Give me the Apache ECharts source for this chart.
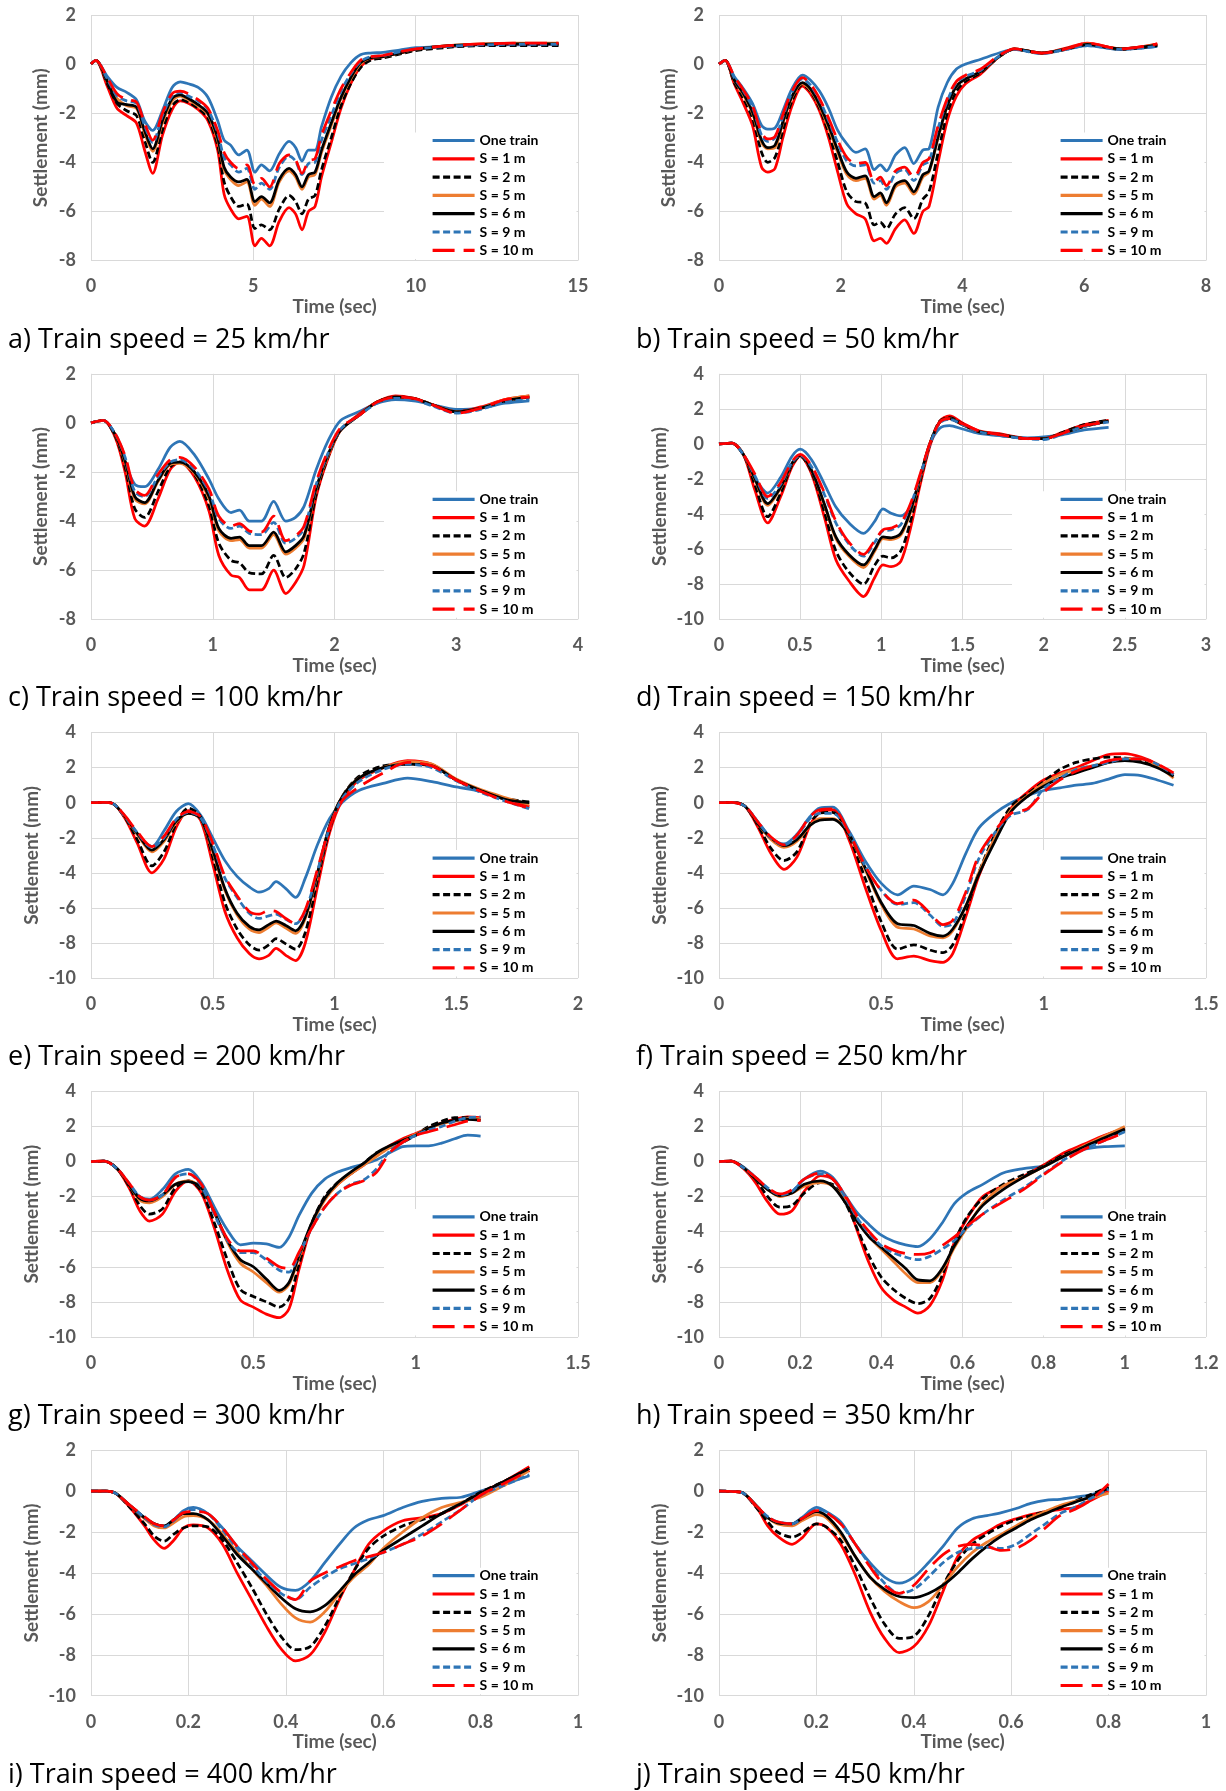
<!DOCTYPE html>
<html><head><meta charset="utf-8">
<script src="https://cdn.jsdelivr.net/npm/echarts@6/dist/echarts.min.js"></script>
<style>html,body{margin:0;padding:0;background:#fff}#main{width:1226px;height:1791px}</style>
</head><body><div id="main"></div>
<script>
const seriesNames = ['One train', 'S = 1 m', 'S = 2 m', 'S = 5 m', 'S = 6 m', 'S = 9 m', 'S = 10 m'];
const panelCaptions = ['a) Train speed = 25 km/hr', 'b) Train speed = 50 km/hr', 'c) Train speed = 100 km/hr', 'd) Train speed = 150 km/hr', 'e) Train speed = 200 km/hr', 'f) Train speed = 250 km/hr', 'g) Train speed = 300 km/hr', 'h) Train speed = 350 km/hr', 'i) Train speed = 400 km/hr', 'j) Train speed = 450 km/hr'];
const xAxisMax = [15, 8, 4, 3, 2, 1.5, 1.5, 1.2, 1, 1];
const xAxisInterval = [5, 2, 1, 0.5, 0.5, 0.5, 0.5, 0.2, 0.2, 0.2];
const yAxisMin = [-8, -8, -8, -10, -10, -10, -10, -10, -10, -10];
const yAxisMax = [2, 2, 2, 4, 4, 4, 4, 4, 2, 2];
const yAxisInterval = [2, 2, 2, 2, 2, 2, 2, 2, 2, 2];

// a) 25 km/hr
const timeA = [0, 0.15, 0.5, 0.8, 1.1, 1.4, 1.65, 1.9, 2.2, 2.5, 2.75, 3.0, 3.3, 3.6, 3.9, 4.1, 4.3, 4.55, 4.8, 5.05, 5.25, 5.5, 5.8, 6.1, 6.3, 6.5, 6.7, 6.9, 7.1, 7.4, 7.7, 8.0, 8.3, 8.6, 9.0, 9.5, 10, 11, 12, 13, 14.4];
const oneTrainA = [0, 0.15, -0.5, -0.95, -1.15, -1.45, -2.3, -2.7, -1.9, -0.95, -0.72, -0.8, -0.95, -1.35, -2.3, -3.1, -3.3, -3.7, -3.5, -4.4, -4.1, -4.35, -3.65, -3.15, -3.4, -3.95, -3.5, -3.5, -2.55, -1.35, -0.5, 0.05, 0.38, 0.45, 0.48, 0.57, 0.67, 0.72, 0.78, 0.78, 0.8];
const s1A = [0, 0.15, -0.9, -1.8, -2.1, -2.4, -3.5, -4.45, -2.9, -1.85, -1.5, -1.6, -1.85, -2.3, -3.5, -5.3, -5.9, -6.3, -6.2, -7.4, -7.1, -7.4, -6.4, -5.85, -6.1, -6.75, -6.0, -5.8, -4.6, -3.2, -1.8, -0.8, -0.1, 0.2, 0.3, 0.45, 0.6, 0.72, 0.8, 0.82, 0.82];
const s2A = [0, 0.15, -0.8, -1.6, -1.9, -2.1, -3.1, -4.0, -2.7, -1.7, -1.45, -1.55, -1.8, -2.2, -3.3, -4.8, -5.4, -5.8, -5.7, -6.7, -6.55, -6.75, -5.9, -5.35, -5.6, -6.1, -5.5, -5.35, -4.3, -3.0, -1.7, -0.8, -0.15, 0.15, 0.25, 0.4, 0.55, 0.68, 0.75, 0.75, 0.75];
const s5A = [0, 0.15, -0.7, -1.4, -1.7, -1.8, -2.8, -3.55, -2.4, -1.5, -1.3, -1.45, -1.7, -2.05, -3.1, -4.3, -4.7, -4.95, -4.8, -5.75, -5.5, -5.8, -4.8, -4.35, -4.6, -5.1, -4.6, -4.5, -3.6, -2.5, -1.4, -0.6, 0.0, 0.25, 0.3, 0.45, 0.6, 0.75, 0.82, 0.85, 0.85];
const s6A = [0, 0.15, -0.7, -1.55, -1.65, -1.75, -2.7, -3.45, -2.3, -1.4, -1.25, -1.4, -1.65, -2.0, -3.0, -4.2, -4.6, -4.8, -4.7, -5.6, -5.4, -5.65, -4.7, -4.25, -4.5, -5.0, -4.5, -4.4, -3.5, -2.4, -1.35, -0.55, 0.05, 0.25, 0.3, 0.45, 0.6, 0.75, 0.8, 0.82, 0.82];
const s9A = [0, 0.15, -0.6, -1.3, -1.5, -1.6, -2.5, -3.2, -2.1, -1.3, -1.15, -1.3, -1.5, -1.85, -2.8, -3.8, -4.1, -4.4, -4.25, -5.1, -4.85, -5.1, -4.2, -3.75, -3.95, -4.5, -4.05, -4.0, -3.1, -2.1, -1.1, -0.4, 0.1, 0.3, 0.35, 0.5, 0.62, 0.72, 0.78, 0.8, 0.8];
const s10A = [0, 0.15, -0.55, -1.2, -1.45, -1.55, -2.4, -3.1, -2.0, -1.2, -1.1, -1.2, -1.45, -1.8, -2.7, -3.6, -4.0, -4.25, -4.1, -4.9, -4.65, -5.0, -4.05, -3.7, -3.9, -4.45, -3.95, -3.85, -2.9, -1.9, -1.0, -0.35, 0.15, 0.3, 0.35, 0.5, 0.62, 0.75, 0.82, 0.85, 0.85];

// b) 50 km/hr
const timeB = [0, 0.1, 0.25, 0.4, 0.55, 0.7, 0.8, 0.92, 1.05, 1.2, 1.37, 1.5, 1.65, 1.8, 1.95, 2.1, 2.25, 2.4, 2.55, 2.65, 2.75, 2.9, 3.05, 3.2, 3.35, 3.45, 3.6, 3.75, 3.9, 4.05, 4.3, 4.6, 4.85, 5.3, 5.7, 6.05, 6.6, 7.2];
const oneTrainB = [0, 0.15, -0.5, -1.0, -1.6, -2.5, -2.65, -2.6, -1.9, -1.0, -0.45, -0.65, -1.1, -1.8, -2.7, -3.25, -3.6, -3.45, -4.3, -4.1, -4.35, -3.7, -3.4, -4.05, -3.5, -3.45, -1.75, -0.75, -0.2, 0.0, 0.2, 0.45, 0.6, 0.45, 0.6, 0.75, 0.6, 0.72];
const s1B = [0, 0.15, -0.8, -1.6, -2.5, -4.2, -4.4, -4.25, -3.0, -1.7, -0.9, -1.2, -1.9, -3.0, -4.4, -5.7, -6.1, -6.3, -7.2, -7.1, -7.3, -6.7, -6.35, -6.9, -6.0, -5.8, -4.0, -2.3, -1.3, -0.8, -0.4, 0.3, 0.62, 0.45, 0.65, 0.85, 0.62, 0.82];
const s2B = [0, 0.15, -0.75, -1.4, -2.2, -3.6, -4.0, -3.8, -2.7, -1.5, -0.85, -1.1, -1.8, -2.8, -4.0, -5.2, -5.6, -5.65, -6.55, -6.45, -6.7, -6.1, -5.85, -6.3, -5.5, -5.2, -3.6, -2.0, -1.1, -0.7, -0.35, 0.3, 0.6, 0.45, 0.6, 0.8, 0.6, 0.75];
const s5B = [0, 0.15, -0.65, -1.25, -2.0, -3.2, -3.45, -3.4, -2.4, -1.35, -0.8, -1.05, -1.7, -2.6, -3.6, -4.5, -4.75, -4.65, -5.5, -5.35, -5.75, -5.0, -4.85, -5.3, -4.6, -4.4, -3.0, -1.7, -0.9, -0.6, -0.3, 0.3, 0.62, 0.45, 0.62, 0.82, 0.62, 0.8];
const s6B = [0, 0.15, -0.65, -1.2, -1.95, -3.1, -3.4, -3.3, -2.35, -1.3, -0.75, -1.0, -1.65, -2.5, -3.5, -4.4, -4.65, -4.55, -5.4, -5.25, -5.65, -4.9, -4.75, -5.2, -4.5, -4.35, -2.95, -1.7, -0.9, -0.6, -0.3, 0.3, 0.62, 0.45, 0.62, 0.8, 0.62, 0.78];
const s9B = [0, 0.15, -0.55, -1.1, -1.75, -2.9, -3.15, -3.0, -2.15, -1.15, -0.6, -0.85, -1.45, -2.3, -3.2, -3.95, -4.15, -4.1, -4.85, -4.75, -5.1, -4.45, -4.3, -4.75, -4.1, -3.95, -2.6, -1.5, -0.75, -0.5, -0.25, 0.32, 0.6, 0.42, 0.6, 0.75, 0.6, 0.72];
const s10B = [0, 0.15, -0.5, -1.05, -1.7, -2.8, -3.05, -2.95, -2.05, -1.1, -0.55, -0.8, -1.4, -2.2, -3.1, -3.8, -4.05, -4.0, -4.8, -4.6, -4.95, -4.35, -4.2, -4.6, -4.0, -3.85, -2.5, -1.4, -0.7, -0.45, -0.2, 0.35, 0.62, 0.45, 0.62, 0.85, 0.62, 0.82];

// c) 100 km/hr
const timeC = [0, 0.1, 0.2, 0.28, 0.36, 0.44, 0.55, 0.65, 0.73, 0.85, 0.97, 1.05, 1.15, 1.22, 1.3, 1.4, 1.5, 1.6, 1.68, 1.75, 1.85, 1.95, 2.05, 2.2, 2.35, 2.5, 2.65, 2.8, 3.0, 3.2, 3.4, 3.6];
const oneTrainC = [0, 0.1, -0.5, -1.6, -2.5, -2.6, -1.9, -1.0, -0.75, -1.3, -2.3, -3.1, -3.65, -3.55, -4.0, -4.0, -3.2, -4.0, -3.85, -3.4, -1.9, -0.7, 0.1, 0.45, 0.8, 0.95, 0.9, 0.75, 0.55, 0.6, 0.8, 0.9];
const s1C = [0, 0.1, -0.6, -2.0, -3.9, -4.2, -3.1, -1.9, -1.6, -2.2, -3.6, -5.4, -6.2, -6.3, -6.8, -6.8, -6.0, -6.95, -6.5, -5.8, -3.0, -1.4, -0.3, 0.35, 0.85, 1.1, 1.0, 0.75, 0.45, 0.65, 0.95, 1.1];
const s2C = [0, 0.1, -0.55, -1.8, -3.5, -3.85, -2.8, -1.8, -1.6, -2.1, -3.4, -4.9, -5.6, -5.7, -6.1, -6.15, -5.4, -6.3, -5.95, -5.3, -2.9, -1.35, -0.3, 0.3, 0.85, 1.05, 1.0, 0.75, 0.45, 0.6, 0.9, 1.05];
const s5C = [0, 0.1, -0.5, -1.6, -3.1, -3.3, -2.4, -1.7, -1.65, -2.05, -3.1, -4.4, -4.8, -4.75, -5.1, -5.1, -4.55, -5.35, -5.1, -4.7, -2.7, -1.3, -0.3, 0.3, 0.85, 1.05, 1.0, 0.75, 0.45, 0.6, 0.95, 1.1];
const s6C = [0, 0.1, -0.5, -1.55, -3.0, -3.25, -2.35, -1.65, -1.6, -2.0, -3.0, -4.3, -4.7, -4.65, -5.0, -5.0, -4.45, -5.25, -5.0, -4.6, -2.65, -1.25, -0.3, 0.3, 0.85, 1.05, 1.0, 0.75, 0.45, 0.6, 0.9, 1.05];
const s9C = [0, 0.1, -0.45, -1.4, -2.8, -3.0, -2.2, -1.6, -1.5, -1.9, -2.8, -3.9, -4.3, -4.2, -4.5, -4.55, -4.05, -4.9, -4.7, -4.3, -2.5, -1.2, -0.25, 0.3, 0.8, 1.0, 0.95, 0.7, 0.4, 0.55, 0.85, 0.95];
const s10C = [0, 0.1, -0.45, -1.35, -2.7, -2.95, -2.1, -1.5, -1.4, -1.8, -2.7, -3.8, -4.2, -4.1, -4.4, -4.45, -3.8, -4.8, -4.6, -4.2, -2.4, -1.1, -0.2, 0.3, 0.85, 1.05, 1.0, 0.75, 0.4, 0.6, 0.95, 1.05];

// d) 150 km/hr
const timeD = [0, 0.08, 0.15, 0.22, 0.3, 0.38, 0.45, 0.5, 0.57, 0.65, 0.72, 0.8, 0.89, 0.96, 1.01, 1.06, 1.12, 1.18, 1.24, 1.3, 1.36, 1.42, 1.5, 1.6, 1.75, 1.9, 2.0, 2.1, 2.25, 2.4];
const oneTrainD = [0, 0.05, -0.6, -1.9, -2.8, -1.9, -0.7, -0.3, -0.9, -2.3, -3.6, -4.5, -5.1, -4.4, -3.7, -3.95, -4.1, -3.6, -1.9, 0.0, 0.9, 1.05, 0.85, 0.6, 0.45, 0.35, 0.4, 0.5, 0.8, 0.95];
const s1D = [0, 0.05, -0.6, -2.6, -4.5, -3.0, -1.3, -0.7, -1.7, -4.2, -6.6, -7.8, -8.7, -7.6, -6.9, -7.0, -6.7, -4.8, -2.3, -0.1, 1.3, 1.6, 1.2, 0.75, 0.55, 0.3, 0.3, 0.6, 1.1, 1.35];
const s2D = [0, 0.05, -0.6, -2.3, -4.15, -2.8, -1.2, -0.7, -1.6, -3.9, -6.1, -7.3, -8.0, -6.9, -6.4, -6.5, -6.1, -4.4, -2.1, 0.0, 1.3, 1.5, 1.15, 0.7, 0.5, 0.3, 0.3, 0.6, 1.1, 1.35];
const s5D = [0, 0.05, -0.6, -2.0, -3.5, -2.5, -1.1, -0.65, -1.5, -3.5, -5.4, -6.4, -7.05, -6.1, -5.4, -5.45, -5.2, -3.9, -1.9, 0.05, 1.25, 1.45, 1.1, 0.7, 0.5, 0.3, 0.3, 0.55, 1.0, 1.3];
const s6D = [0, 0.05, -0.6, -1.95, -3.4, -2.45, -1.1, -0.65, -1.5, -3.45, -5.3, -6.3, -6.9, -6.0, -5.3, -5.35, -5.1, -3.8, -1.85, 0.05, 1.25, 1.45, 1.1, 0.7, 0.5, 0.3, 0.3, 0.55, 1.0, 1.3];
const s9D = [0, 0.05, -0.6, -1.8, -3.1, -2.3, -1.05, -0.65, -1.3, -2.9, -4.5, -5.7, -6.4, -5.6, -4.95, -4.9, -4.6, -3.5, -1.8, 0.0, 1.2, 1.4, 1.1, 0.7, 0.45, 0.3, 0.25, 0.5, 1.0, 1.25];
const s10D = [0, 0.05, -0.6, -1.7, -3.0, -2.2, -1.0, -0.6, -1.25, -2.8, -4.4, -5.6, -6.3, -5.5, -4.9, -4.8, -4.5, -3.4, -1.7, 0.05, 1.25, 1.45, 1.15, 0.75, 0.5, 0.3, 0.3, 0.55, 1.05, 1.25];

// e) 200 km/hr
const timeE = [0, 0.05, 0.09, 0.14, 0.19, 0.25, 0.3, 0.35, 0.4, 0.45, 0.5, 0.55, 0.6, 0.65, 0.69, 0.73, 0.76, 0.8, 0.84, 0.88, 0.93, 0.98, 1.03, 1.1, 1.2, 1.3, 1.4, 1.5, 1.6, 1.7, 1.8];
const oneTrainE = [0, 0.02, -0.05, -0.8, -1.8, -2.5, -1.6, -0.5, -0.05, -0.7, -2.0, -3.3, -4.2, -4.8, -5.1, -4.9, -4.5, -4.9, -5.4, -4.3, -2.4, -0.9, 0.0, 0.7, 1.1, 1.4, 1.2, 0.9, 0.65, 0.2, -0.3];
const s1E = [0, 0.02, -0.05, -0.9, -2.3, -4.0, -3.2, -1.4, -0.45, -1.0, -3.5, -6.2, -7.7, -8.6, -8.9, -8.7, -8.3, -8.7, -9.0, -8.0, -4.8, -1.7, 0.1, 1.3, 2.0, 2.4, 2.2, 1.3, 0.7, 0.2, -0.2];
const s2E = [0, 0.02, -0.05, -0.85, -2.1, -3.6, -2.8, -1.2, -0.3, -0.8, -3.1, -5.7, -7.2, -8.1, -8.4, -8.1, -7.75, -8.05, -8.35, -7.4, -4.4, -1.5, 0.3, 1.5, 2.1, 2.2, 2.1, 1.3, 0.7, 0.25, 0.05];
const s5E = [0, 0.02, -0.05, -0.8, -1.8, -2.8, -2.2, -1.1, -0.6, -0.9, -2.8, -5.0, -6.4, -7.2, -7.4, -7.1, -6.85, -7.15, -7.45, -6.6, -4.1, -1.3, 0.3, 1.4, 2.0, 2.35, 2.2, 1.35, 0.75, 0.3, -0.1];
const s6E = [0, 0.02, -0.05, -0.8, -1.75, -2.7, -2.1, -1.05, -0.6, -0.9, -2.7, -4.9, -6.3, -7.05, -7.25, -6.95, -6.75, -7.0, -7.3, -6.5, -4.0, -1.3, 0.3, 1.4, 2.0, 2.2, 2.1, 1.3, 0.7, 0.2, 0.0];
const s9E = [0, 0.02, -0.05, -0.8, -1.7, -2.55, -2.0, -0.95, -0.55, -0.85, -2.4, -4.3, -5.4, -6.3, -6.6, -6.45, -6.35, -6.65, -6.9, -6.2, -3.9, -1.4, 0.2, 1.2, 1.9, 2.2, 2.0, 1.25, 0.6, 0.1, -0.35];
const s10E = [0, 0.02, -0.05, -0.75, -1.65, -2.5, -1.9, -0.9, -0.5, -0.8, -2.3, -4.2, -5.3, -6.2, -6.35, -6.15, -6.2, -6.6, -6.9, -6.1, -3.8, -1.4, 0.1, 0.9, 1.7, 2.3, 2.1, 1.3, 0.65, 0.1, -0.3];

// f) 250 km/hr
const timeF = [0, 0.04, 0.08, 0.12, 0.16, 0.2, 0.24, 0.28, 0.31, 0.35, 0.4, 0.45, 0.5, 0.55, 0.6, 0.65, 0.69, 0.72, 0.76, 0.8, 0.85, 0.9, 0.95, 1.0, 1.05, 1.1, 1.15, 1.2, 1.25, 1.3, 1.35, 1.4];
const oneTrainF = [0, 0.02, -0.2, -1.1, -2.0, -2.35, -1.8, -0.8, -0.3, -0.25, -1.6, -3.3, -4.6, -5.25, -4.75, -4.95, -5.25, -4.6, -2.9, -1.45, -0.6, 0.0, 0.4, 0.7, 0.85, 1.0, 1.1, 1.35, 1.6, 1.55, 1.3, 1.0];
const s1F = [0, 0.02, -0.2, -1.4, -2.9, -3.8, -3.1, -1.3, -0.55, -0.4, -2.1, -4.8, -7.3, -8.9, -8.75, -9.0, -9.1, -8.6, -6.5, -4.2, -2.0, -0.3, 0.6, 1.3, 1.7, 2.0, 2.4, 2.75, 2.8, 2.6, 2.2, 1.6];
const s2F = [0, 0.02, -0.2, -1.3, -2.6, -3.3, -2.8, -1.2, -0.6, -0.55, -1.9, -4.3, -6.8, -8.35, -8.1, -8.4, -8.55, -8.1, -6.2, -4.0, -1.8, -0.2, 0.5, 1.2, 1.9, 2.3, 2.5, 2.6, 2.55, 2.4, 2.1, 1.6];
const s5F = [0, 0.02, -0.2, -1.2, -2.1, -2.55, -2.2, -1.3, -0.9, -0.9, -1.8, -3.8, -5.8, -7.1, -7.2, -7.6, -7.7, -7.3, -5.9, -4.0, -2.0, -0.4, 0.4, 1.1, 1.6, 1.9, 2.1, 2.3, 2.5, 2.5, 2.1, 1.4];
const s6F = [0, 0.02, -0.2, -1.2, -2.0, -2.45, -2.1, -1.3, -1.0, -0.95, -1.8, -3.7, -5.7, -6.9, -7.0, -7.45, -7.6, -7.2, -5.9, -4.1, -2.2, -0.5, 0.35, 0.95, 1.4, 1.7, 2.0, 2.3, 2.4, 2.3, 2.0, 1.5];
const s9F = [0, 0.02, -0.2, -1.1, -2.0, -2.4, -1.9, -0.9, -0.6, -0.6, -1.7, -3.6, -5.0, -5.8, -5.7, -6.4, -7.05, -6.9, -5.3, -3.2, -1.7, -0.7, -0.4, 0.8, 1.4, 1.9, 2.1, 2.3, 2.5, 2.5, 2.2, 1.6];
const s10F = [0, 0.02, -0.2, -1.1, -1.95, -2.4, -1.85, -0.8, -0.4, -0.35, -1.7, -3.6, -5.0, -5.75, -5.55, -6.3, -6.95, -6.7, -5.1, -3.0, -1.6, -0.6, -0.35, 0.6, 1.3, 1.8, 2.1, 2.4, 2.5, 2.5, 2.2, 1.7];

// g) 300 km/hr
const timeG = [0, 0.04, 0.08, 0.12, 0.15, 0.18, 0.22, 0.26, 0.3, 0.34, 0.38, 0.42, 0.46, 0.5, 0.54, 0.58, 0.61, 0.64, 0.68, 0.72, 0.76, 0.8, 0.84, 0.88, 0.92, 0.96, 1.0, 1.04, 1.08, 1.12, 1.16, 1.2];
const oneTrainG = [0, 0.02, -0.4, -1.4, -2.0, -2.15, -1.6, -0.7, -0.45, -1.2, -2.6, -3.9, -4.75, -4.65, -4.7, -4.9, -4.3, -3.1, -1.8, -1.0, -0.6, -0.35, -0.15, 0.1, 0.5, 0.85, 0.9, 0.9, 1.05, 1.3, 1.5, 1.45];
const s1G = [0, 0.02, -0.4, -1.6, -2.8, -3.4, -3.0, -1.7, -1.1, -1.8, -3.8, -6.2, -7.9, -8.3, -8.7, -8.9, -8.4, -6.2, -3.6, -2.1, -1.3, -0.7, -0.2, 0.4, 0.9, 1.3, 1.6, 1.9, 2.2, 2.4, 2.55, 2.5];
const s2G = [0, 0.02, -0.4, -1.5, -2.5, -3.0, -2.7, -1.5, -1.1, -1.7, -3.5, -5.6, -7.3, -7.7, -8.0, -8.3, -7.8, -5.9, -3.5, -2.0, -1.2, -0.7, -0.1, 0.5, 0.8, 1.1, 1.5, 2.0, 2.3, 2.5, 2.5, 2.35];
const s5G = [0, 0.02, -0.4, -1.4, -2.2, -2.35, -2.0, -1.3, -1.1, -1.5, -2.9, -4.6, -5.8, -6.3, -6.9, -7.45, -7.0, -5.5, -3.6, -2.2, -1.3, -0.7, -0.2, 0.3, 0.8, 1.2, 1.55, 1.9, 2.15, 2.3, 2.45, 2.45];
const s6G = [0, 0.02, -0.4, -1.4, -2.1, -2.25, -1.9, -1.3, -1.15, -1.5, -2.9, -4.5, -5.6, -6.0, -6.7, -7.35, -6.9, -5.4, -3.5, -2.1, -1.2, -0.6, -0.1, 0.5, 0.9, 1.2, 1.5, 1.9, 2.2, 2.35, 2.4, 2.35];
const s9G = [0, 0.02, -0.4, -1.3, -2.0, -2.2, -1.9, -0.9, -0.7, -1.4, -3.0, -4.5, -5.2, -5.2, -5.6, -6.2, -6.3, -5.3, -3.8, -2.6, -1.8, -1.3, -1.05, -0.4, 0.6, 1.1, 1.5, 1.8, 2.0, 2.3, 2.5, 2.55];
const s10G = [0, 0.02, -0.4, -1.3, -2.0, -2.2, -1.9, -0.9, -0.7, -1.3, -2.9, -4.4, -5.1, -5.1, -5.5, -6.0, -6.1, -5.2, -3.8, -2.6, -1.8, -1.35, -1.1, -0.6, 0.5, 1.1, 1.5, 1.7, 1.9, 2.1, 2.3, 2.35];

// h) 350 km/hr
const timeH = [0, 0.03, 0.06, 0.09, 0.12, 0.15, 0.18, 0.21, 0.25, 0.28, 0.31, 0.34, 0.37, 0.4, 0.43, 0.46, 0.49, 0.52, 0.55, 0.58, 0.61, 0.65, 0.7, 0.75, 0.8, 0.85, 0.9, 0.95, 1.0];
const oneTrainH = [0, 0.02, -0.3, -0.9, -1.6, -1.9, -1.7, -1.0, -0.55, -0.9, -1.9, -2.9, -3.6, -4.2, -4.55, -4.75, -4.85, -4.4, -3.5, -2.4, -1.8, -1.3, -0.65, -0.4, -0.25, 0.3, 0.7, 0.85, 0.9];
const s1H = [0, 0.02, -0.4, -1.2, -2.3, -3.0, -2.8, -1.7, -0.8, -1.0, -2.0, -3.9, -5.8, -7.2, -7.9, -8.3, -8.65, -8.2, -6.8, -4.6, -3.3, -2.0, -1.4, -0.85, -0.2, 0.5, 1.0, 1.5, 1.9];
const s2H = [0, 0.02, -0.35, -1.0, -2.0, -2.6, -2.5, -1.8, -1.2, -1.3, -2.3, -3.8, -5.4, -6.6, -7.3, -7.8, -8.1, -7.8, -6.5, -4.6, -3.2, -2.1, -1.3, -0.75, -0.25, 0.4, 0.8, 1.3, 1.8];
const s5H = [0, 0.02, -0.35, -1.0, -1.6, -2.0, -1.8, -1.4, -1.2, -1.4, -2.2, -3.3, -4.3, -5.0, -5.7, -6.4, -6.9, -6.9, -6.2, -4.9, -3.8, -2.4, -1.4, -0.9, -0.3, 0.3, 0.9, 1.45, 2.0];
const s6H = [0, 0.02, -0.35, -1.0, -1.6, -1.95, -1.8, -1.3, -1.1, -1.4, -2.3, -3.4, -4.3, -4.9, -5.5, -6.1, -6.75, -6.8, -6.1, -4.8, -3.7, -2.5, -1.6, -0.9, -0.3, 0.3, 0.85, 1.35, 1.85];
const s9H = [0, 0.02, -0.35, -0.9, -1.5, -1.9, -1.7, -1.0, -0.7, -1.0, -2.0, -3.2, -4.1, -4.8, -5.2, -5.45, -5.6, -5.4, -5.0, -4.5, -3.8, -3.0, -2.2, -1.5, -0.7, 0.1, 0.7, 1.2, 1.7];
const s10H = [0, 0.02, -0.35, -0.9, -1.5, -1.85, -1.6, -1.0, -0.65, -1.0, -1.9, -3.1, -4.0, -4.7, -5.05, -5.25, -5.3, -5.2, -4.8, -4.3, -3.7, -3.0, -2.3, -1.6, -0.75, 0.05, 0.7, 1.2, 1.65];

// i) 400 km/hr
const timeI = [0, 0.03, 0.05, 0.08, 0.11, 0.13, 0.15, 0.17, 0.19, 0.21, 0.24, 0.27, 0.3, 0.33, 0.36, 0.39, 0.42, 0.45, 0.48, 0.51, 0.54, 0.57, 0.6, 0.64, 0.68, 0.72, 0.76, 0.8, 0.85, 0.9];
const oneTrainI = [0, 0.0, -0.1, -0.7, -1.3, -1.6, -1.75, -1.4, -0.95, -0.8, -1.1, -1.8, -2.7, -3.4, -4.1, -4.7, -4.85, -4.4, -3.5, -2.6, -1.8, -1.4, -1.2, -0.8, -0.5, -0.35, -0.3, 0.0, 0.35, 0.75];
const s1I = [0, 0.0, -0.1, -0.8, -1.7, -2.4, -2.8, -2.4, -1.8, -1.65, -1.8, -2.6, -4.0, -5.3, -6.6, -7.7, -8.3, -8.0, -6.9, -5.3, -3.9, -2.6, -1.95, -1.45, -1.3, -1.1, -0.65, -0.1, 0.5, 1.2];
const s2I = [0, 0.0, -0.1, -0.8, -1.6, -2.2, -2.45, -2.1, -1.8, -1.7, -1.75, -2.4, -3.5, -4.7, -6.0, -7.1, -7.75, -7.6, -6.6, -5.2, -3.9, -2.8, -2.2, -1.7, -1.4, -1.1, -0.6, -0.05, 0.5, 1.1];
const s5I = [0, 0.0, -0.1, -0.7, -1.35, -1.7, -1.8, -1.55, -1.25, -1.2, -1.4, -2.1, -3.0, -3.8, -4.6, -5.5, -6.2, -6.4, -5.9, -5.0, -4.2, -3.6, -2.8, -2.0, -1.3, -0.8, -0.55, -0.3, 0.3, 1.0];
const s6I = [0, 0.0, -0.1, -0.7, -1.3, -1.6, -1.7, -1.4, -1.1, -1.1, -1.4, -2.2, -3.1, -3.8, -4.5, -5.2, -5.75, -5.9, -5.6, -4.9, -4.1, -3.5, -2.9, -2.3, -1.7, -1.1, -0.6, -0.1, 0.5, 1.1];
const s9I = [0, 0.0, -0.1, -0.7, -1.3, -1.65, -1.75, -1.45, -1.0, -0.9, -1.1, -1.9, -2.8, -3.6, -4.4, -5.0, -5.3, -4.7, -4.2, -3.8, -3.55, -3.3, -3.0, -2.6, -2.1, -1.5, -0.9, -0.2, 0.3, 0.8];
const s10I = [0, 0.0, -0.1, -0.7, -1.25, -1.6, -1.7, -1.4, -1.05, -1.0, -1.1, -1.8, -2.7, -3.5, -4.3, -4.95, -5.3, -4.4, -4.0, -3.7, -3.4, -3.2, -3.0, -2.6, -2.2, -1.6, -0.9, -0.2, 0.4, 1.0];

// j) 450 km/hr
const timeJ = [0, 0.03, 0.05, 0.08, 0.1, 0.12, 0.15, 0.17, 0.2, 0.22, 0.25, 0.28, 0.31, 0.34, 0.37, 0.4, 0.43, 0.46, 0.49, 0.52, 0.55, 0.58, 0.61, 0.64, 0.67, 0.7, 0.73, 0.76, 0.8];
const oneTrainJ = [0, -0.02, -0.1, -0.8, -1.3, -1.55, -1.6, -1.3, -0.8, -1.0, -1.5, -2.6, -3.5, -4.2, -4.5, -4.2, -3.5, -2.7, -1.8, -1.35, -1.2, -1.05, -0.85, -0.6, -0.45, -0.4, -0.3, -0.2, 0.1];
const s1J = [0, -0.02, -0.1, -0.9, -1.7, -2.2, -2.6, -2.3, -1.6, -1.75, -2.6, -4.1, -5.9, -7.2, -7.9, -7.6, -6.6, -4.9, -3.2, -2.4, -2.0, -1.6, -1.35, -1.15, -1.0, -0.9, -0.8, -0.5, 0.0];
const s2J = [0, -0.02, -0.1, -0.9, -1.5, -2.0, -2.25, -2.05, -1.6, -1.75, -2.4, -3.7, -5.2, -6.5, -7.2, -7.1, -6.1, -4.6, -3.4, -2.6, -2.1, -1.7, -1.4, -1.2, -1.0, -0.8, -0.5, -0.2, 0.2];
const s5J = [0, -0.02, -0.1, -0.8, -1.3, -1.6, -1.7, -1.45, -1.15, -1.3, -2.1, -3.2, -4.2, -4.9, -5.4, -5.7, -5.4, -4.6, -3.7, -3.0, -2.5, -2.1, -1.7, -1.3, -1.0, -0.7, -0.5, -0.35, -0.1];
const s6J = [0, -0.02, -0.1, -0.8, -1.3, -1.55, -1.6, -1.35, -1.0, -1.2, -2.0, -3.2, -4.2, -4.8, -5.15, -5.2, -5.0, -4.6, -4.0, -3.3, -2.7, -2.2, -1.8, -1.4, -1.1, -0.8, -0.55, -0.3, 0.15];
const s9J = [0, -0.02, -0.1, -0.8, -1.25, -1.5, -1.6, -1.35, -0.9, -1.0, -1.6, -2.6, -3.6, -4.5, -5.0, -4.8, -4.2, -3.5, -3.0, -2.8, -2.75, -2.8, -2.6, -2.1, -1.6, -1.1, -0.8, -0.4, 0.1];
const s10J = [0, -0.02, -0.1, -0.8, -1.25, -1.5, -1.6, -1.35, -0.95, -1.05, -1.6, -2.6, -3.7, -4.6, -5.0, -4.6, -3.8, -3.1, -2.7, -2.6, -2.7, -2.9, -2.8, -2.4, -1.8, -1.2, -0.9, -0.5, 0.35];

const panelTimes = [timeA, timeB, timeC, timeD, timeE, timeF, timeG, timeH, timeI, timeJ];
const panelValues = [
  [oneTrainA, s1A, s2A, s5A, s6A, s9A, s10A],
  [oneTrainB, s1B, s2B, s5B, s6B, s9B, s10B],
  [oneTrainC, s1C, s2C, s5C, s6C, s9C, s10C],
  [oneTrainD, s1D, s2D, s5D, s6D, s9D, s10D],
  [oneTrainE, s1E, s2E, s5E, s6E, s9E, s10E],
  [oneTrainF, s1F, s2F, s5F, s6F, s9F, s10F],
  [oneTrainG, s1G, s2G, s5G, s6G, s9G, s10G],
  [oneTrainH, s1H, s2H, s5H, s6H, s9H, s10H],
  [oneTrainI, s1I, s2I, s5I, s6I, s9I, s10I],
  [oneTrainJ, s1J, s2J, s5J, s6J, s9J, s10J]
];

// ---------- styling / layout ----------
const COLORS = ['#2E75B6', '#FF0000', '#000000', '#ED7D31', '#000000', '#2E75B6', '#FF0000'];
const DASHES = ['solid', 'solid', [7, 3.5], 'solid', 'solid', [7, 3.5], [22, 9]];
const COL_LEFT = [91, 719];
const CAPTION_X = [8, 636];
const ROW_TOP0 = 15, ROW_PITCH = 358.8, PLOT_W = 487, PLOT_H = 245.5;
const GRAY = '#595959', GRID = '#d9d9d9';
const FONT = 'Lato, "Noto Sans", sans-serif';

const chart = echarts.init(document.getElementById('main'), null, {renderer: 'canvas', width: 1226, height: 1791});
const grids = [], xAxes = [], yAxes = [], series = [], legends = [], titles = [], graphics = [];

for (let p = 0; p < 10; p++) {
  const col = p % 2, row = Math.floor(p / 2);
  const left = COL_LEFT[col], top = ROW_TOP0 + ROW_PITCH * row;
  grids.push({left: left, top: top, width: PLOT_W, height: PLOT_H, outerBoundsMode: 'none', containLabel: false});
  xAxes.push({
    gridIndex: p, type: 'value', min: 0, max: xAxisMax[p], interval: xAxisInterval[p],
    name: 'Time (sec)', nameLocation: 'middle', nameGap: 37,
    nameTextStyle: {fontFamily: FONT, fontWeight: 'bold', fontSize: 19, color: GRAY},
    axisLine: {show: false, onZero: false}, axisTick: {show: false},
    axisLabel: {margin: 17, fontFamily: FONT, fontWeight: 'bold', fontSize: 18, color: GRAY},
    splitLine: {show: true, lineStyle: {color: GRID, width: 1}}
  });
  const wide = yAxisMin[p] <= -10;
  yAxes.push({
    gridIndex: p, type: 'value', min: yAxisMin[p], max: yAxisMax[p], interval: yAxisInterval[p],
    name: 'Settlement (mm)', nameLocation: 'middle', nameGap: wide ? 50 : 41,
    nameTextStyle: {fontFamily: FONT, fontWeight: 'bold', fontSize: 19, color: GRAY},
    axisLine: {show: false}, axisTick: {show: false},
    axisLabel: {margin: 15, fontFamily: FONT, fontWeight: 'bold', fontSize: 18, color: GRAY},
    splitLine: {show: true, lineStyle: {color: GRID, width: 1}}
  });
  const t = panelTimes[p];
  for (let s = 0; s < 7; s++) {
    const v = panelValues[p][s];
    const n = Math.min(t.length, v.length);
    const data = [];
    for (let i = 0; i < n; i++) data.push([t[i], v[i]]);
    series.push({
      type: 'line', name: seriesNames[s], xAxisIndex: p, yAxisIndex: p, data: data,
      symbol: 'none', smooth: 0.3, animation: false,
      lineStyle: {color: COLORS[s], width: 2.75, type: DASHES[s]},
      itemStyle: {color: COLORS[s]}
    });
  }
  legends.push({
    orient: 'vertical', left: left + 340, top: top + 118.5, padding: 0,
    itemWidth: 42, itemHeight: 14, itemGap: 4.3, selectedMode: false,
    itemStyle: {opacity: 0},
    lineStyle: {width: 3.2},
    data: seriesNames,
    textStyle: {fontFamily: FONT, fontWeight: 'bold', fontSize: 14, lineHeight: 14, color: '#000'}
  });
  titles.push({
    text: panelCaptions[p], left: CAPTION_X[col], top: top + 325 - 15, padding: 0,
    textStyle: {fontFamily: '"Open Sans", sans-serif', fontWeight: 'normal', fontSize: 27, lineHeight: 30, color: '#000'}
  });
  graphics.push({
    type: 'rect', z: 1, silent: true,
    shape: {x: left + 293, y: top + 117.5, width: PLOT_W - 293 - 1.5, height: PLOT_H - 117.5 - 1.5},
    style: {fill: '#ffffff'}
  });
}

chart.setOption({
  animation: false,
  backgroundColor: '#ffffff',
  title: titles,
  grid: grids,
  xAxis: xAxes,
  yAxis: yAxes,
  legend: legends,
  graphic: {elements: graphics},
  series: series
});
</script>
</body></html>
